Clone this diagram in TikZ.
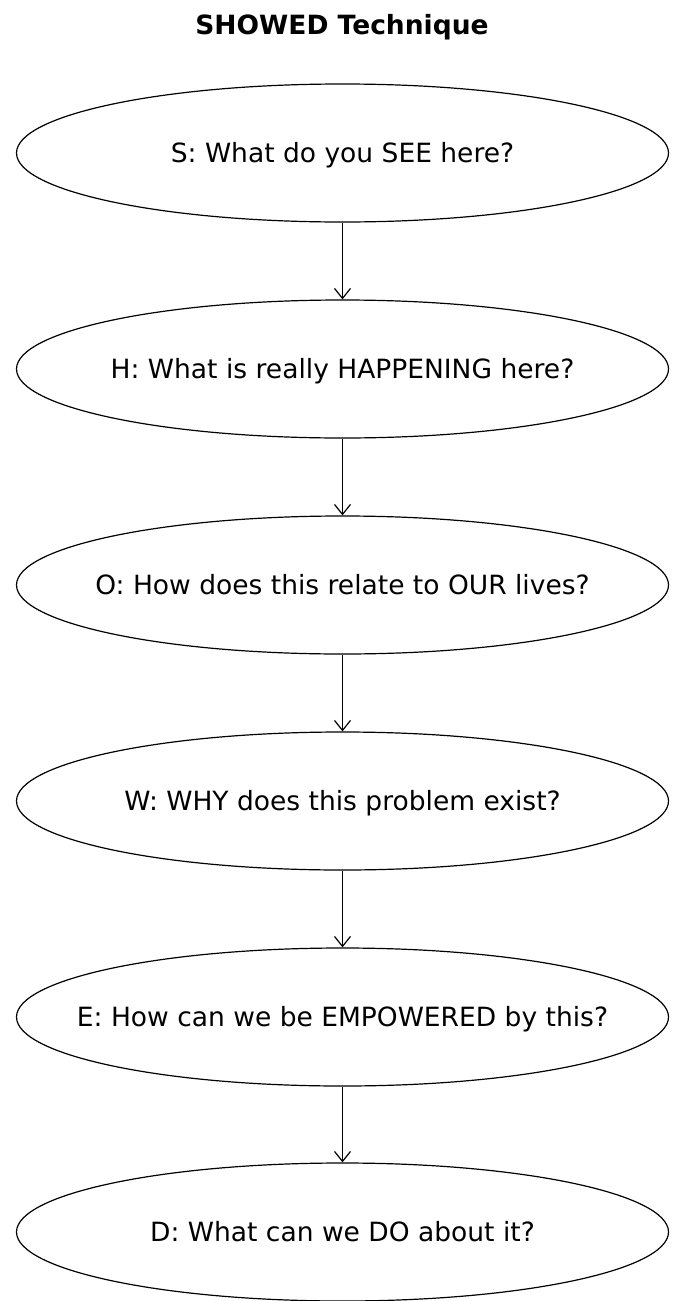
\documentclass[tikz,border=0pt]{standalone}
\usepackage{fontspec}
\setmainfont{DejaVu Sans}
\usetikzlibrary{shapes.geometric,arrows.meta}
\begin{document}
\begin{tikzpicture}[x=1pt,y=-1pt,
  qbox/.style={ellipse,draw=black,line width=1.2pt,minimum width=652pt,minimum height=138pt,inner sep=0pt,text height=19pt,text depth=0pt,font=\fontsize{26.5}{30}\selectfont},
  flow/.style={line width=1.2pt,-{Straight Barb[length=10pt,width=16pt,line width=1.2pt]}}]
\useasboundingbox (0,0) rectangle (677,1301);
\node[font=\bfseries\fontsize{26.5}{30}\selectfont,text height=19pt,text depth=0pt,inner sep=0pt] (title) at (342,25) {SHOWED Technique};
\node[qbox] (s) at (342.5,153) {\makebox[0pt]{S: What do you SEE here?}};
\node[qbox] (h) at (342.5,369) {\makebox[0pt]{H: What is really HAPPENING here?}};
\node[qbox] (o) at (342.5,585) {\makebox[0pt]{O: How does this relate to OUR lives?}};
\node[qbox] (w) at (342.5,801) {\makebox[0pt]{W: WHY does this problem exist?}};
\node[qbox] (e) at (342.5,1017) {\makebox[0pt]{E: How can we be EMPOWERED by this?}};
\node[qbox] (d) at (342.5,1232) {\makebox[0pt]{D: What can we DO about it?}};
\draw[flow] (s) -- (h);
\draw[flow] (h) -- (o);
\draw[flow] (o) -- (w);
\draw[flow] (w) -- (e);
\draw[flow] (e) -- (d);
\end{tikzpicture}
\end{document}
